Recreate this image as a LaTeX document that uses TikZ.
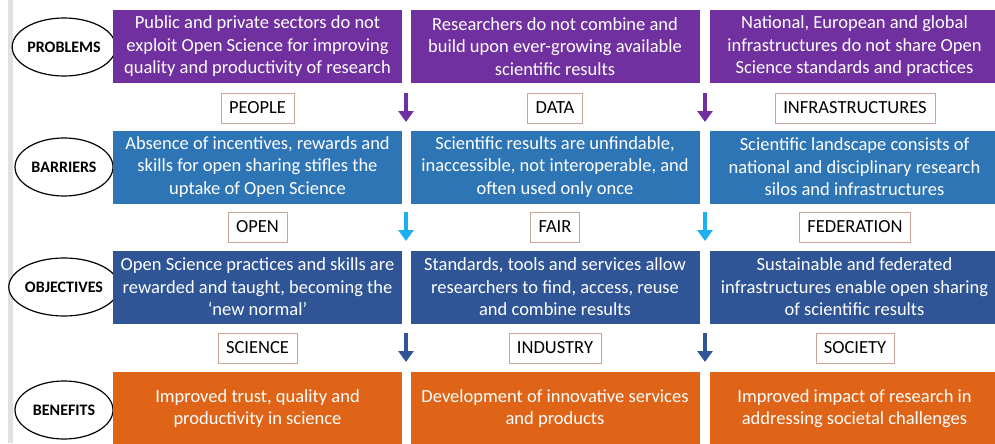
\documentclass[tikz,border=0pt]{standalone}
\usepackage{fontspec}
\setmainfont{Carlito}
\usetikzlibrary{arrows.meta,shapes.geometric}
\definecolor{probpurple}{HTML}{7030A0}
\definecolor{barblue}{HTML}{2E75B6}
\definecolor{objblue}{HTML}{2F5597}
\definecolor{benorange}{HTML}{E06418}
\definecolor{arrowcyan}{HTML}{1CB0F0}
\definecolor{tagborder}{HTML}{C9A596}
\begin{document}
\begin{tikzpicture}[x=1pt, y=-1pt,
    box/.style={rectangle, minimum width=289pt, minimum height=73pt, align=center, text=white, inner sep=0pt, font=\fontsize{18.5}{22.5}\selectfont},
    tag/.style={rectangle, draw=tagborder, fill=white, minimum height=30pt, inner xsep=8pt, font=\fontsize{18.5}{20}\selectfont},
    rowlabel/.style={ellipse, draw, line width=1.2pt, fill=white, minimum width=98pt, minimum height=58pt, inner sep=0pt, font=\bfseries\fontsize{16}{17}\selectfont},
    arrow/.style={-{Triangle[width=15pt,length=11pt]}, line width=3.5pt}
]
\useasboundingbox (0,0) rectangle (995,444);

% Left margin bar
\fill[black!12] (8,0) rectangle (13,443);

% Row labels
\node[rowlabel] (problems) at (64,47) {PROBLEMS};
\node[rowlabel] (barriers) at (64,167) {BARRIERS};
\node[rowlabel] (objectives) at (64,287) {OBJECTIVES};
\node[rowlabel] (benefits) at (64,410) {BENEFITS};

% Problems row
\node[box, fill=probpurple] (prob1) at (257.5,46.5) {Public and private sectors do not\\exploit Open Science for improving\\quality and productivity of research};
\node[box, fill=probpurple] (prob2) at (555,46.5) {Researchers do not combine and\\build upon ever-growing available\\scientific results};
\node[box, fill=probpurple] (prob3) at (854.5,46.5) {National, European and global\\infrastructures do not share Open\\Science standards and practices};

% Barriers row
\node[box, fill=barblue] (barr1) at (257.5,167) {Absence of incentives, rewards and\\skills for open sharing stifles the\\uptake of Open Science};
\node[box, fill=barblue] (barr2) at (555,167) {Scientific results are unfindable,\\inaccessible, not interoperable, and\\often used only once};
\node[box, fill=barblue] (barr3) at (854.5,167) {Scientific landscape consists of\\national and disciplinary research\\silos and infrastructures};

% Objectives row
\node[box, fill=objblue] (obj1) at (257.5,287) {Open Science practices and skills are\\rewarded and taught, becoming the\\`new normal'};
\node[box, fill=objblue] (obj2) at (555,287) {Standards, tools and services allow\\researchers to find, access, reuse\\and combine results};
\node[box, fill=objblue] (obj3) at (854.5,287) {Sustainable and federated\\infrastructures enable open sharing\\of scientific results};

% Benefits row
\node[box, fill=benorange] (ben1) at (257.5,408.5) {Improved trust, quality and\\productivity in science};
\node[box, fill=benorange] (ben2) at (555,408.5) {Development of innovative services\\and products};
\node[box, fill=benorange] (ben3) at (854.5,408.5) {Improved impact of research in\\addressing societal challenges};

% Tags between rows
\node[tag] (people) at (257.5,108) {PEOPLE};
\node[tag] (data) at (555,108) {DATA};
\node[tag] (infra) at (855,108) {INFRASTRUCTURES};
\node[tag] (open) at (257.5,227) {OPEN};
\node[tag] (fair) at (555,227) {FAIR};
\node[tag] (federation) at (855,227) {FEDERATION};
\node[tag] (science) at (257.5,348) {SCIENCE};
\node[tag] (industry) at (555,348) {INDUSTRY};
\node[tag] (society) at (855,348) {SOCIETY};

% Arrow ends
\coordinate (a1top) at (406,93);  \coordinate (a1tip) at (406,122);
\coordinate (b1top) at (705,93);  \coordinate (b1tip) at (705,122);
\coordinate (a2top) at (406,212); \coordinate (a2tip) at (406,241);
\coordinate (b2top) at (705,212); \coordinate (b2tip) at (705,241);
\coordinate (a3top) at (406,333); \coordinate (a3tip) at (406,362);
\coordinate (b3top) at (705,333); \coordinate (b3tip) at (705,362);

% Arrows
\draw[arrow, probpurple] (a1top) -- (a1tip);
\draw[arrow, probpurple] (b1top) -- (b1tip);
\draw[arrow, arrowcyan] (a2top) -- (a2tip);
\draw[arrow, arrowcyan] (b2top) -- (b2tip);
\draw[arrow, objblue] (a3top) -- (a3tip);
\draw[arrow, objblue] (b3top) -- (b3tip);

\end{tikzpicture}
\end{document}
